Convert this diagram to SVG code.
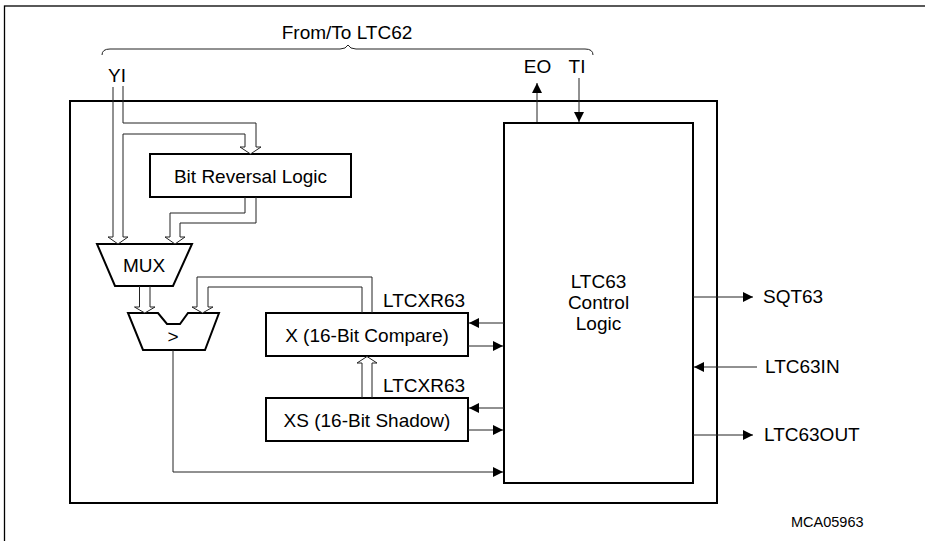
<svg xmlns="http://www.w3.org/2000/svg" width="925" height="541" viewBox="0 0 925 541">
<style>
text{font-family:"Liberation Sans",Arial,sans-serif;font-size:19px;fill:#000}
.box{fill:#fff;stroke:#000;stroke-width:2}
.ln{fill:none;stroke:#222;stroke-width:1}
.hd{fill:#fff;stroke:#222;stroke-width:1}
.c{text-anchor:middle}
</style>
<defs>
<marker id="ah" viewBox="0 0 10 10" refX="10" refY="5" markerWidth="11" markerHeight="10" markerUnits="userSpaceOnUse" orient="auto"><path d="M0,0 L10,5 L0,10z" fill="#000"/></marker>
</defs>
<rect x="4.5" y="6" width="930" height="545" fill="none" stroke="#000" stroke-width="1.3"/>
<g id="chip"><rect class="box" x="70" y="101" width="647" height="402"/></g>
<g id="brace">
<path class="ln" d="M102,55 Q102,49 110,49 H340 Q346,49 348,45 Q350,49 356,49 H585 Q593,49 593,55"/>
<text class="c" x="347" y="39">From/To LTC62</text>
</g>
<g id="bitrev"><rect class="box" x="150" y="154" width="201" height="43"/><text class="c" x="250.5" y="183">Bit Reversal Logic</text></g>
<g id="mux"><path class="box" d="M97,244 H192 L173,286 H115 Z"/><text class="c" x="144" y="272">MUX</text></g>
<g id="cmp"><path class="box" d="M128,313 H158 L167,324 H180 L188,313 H219 L205,350 H143 Z"/><text class="c" x="173" y="343">&gt;</text></g>
<g id="xreg"><rect class="box" x="266" y="313" width="202" height="43"/><text class="c" x="367" y="342">X (16-Bit Compare)</text></g>
<g id="xsreg"><rect class="box" x="266" y="398" width="202" height="43"/><text class="c" x="367" y="427">XS (16-Bit Shadow)</text></g>
<g id="ctrl"><rect class="box" x="504" y="123" width="189" height="360"/>
<text class="c" x="598.5" y="288">LTC63</text><text class="c" x="598.5" y="309">Control</text><text class="c" x="598.5" y="330">Logic</text></g>
<g id="labels">
<text class="c" x="117" y="82">YI</text>
<text class="c" x="537.5" y="73">EO</text>
<text class="c" x="577" y="73">TI</text>
<text x="383" y="307">LTCXR63</text>
<text x="383" y="392">LTCXR63</text>
<text x="763" y="303">SQT63</text>
<text x="765" y="373">LTC63IN</text>
<text x="764" y="441">LTC63OUT</text>
<text x="791" y="527" style="font-size:14.5px">MCA05963</text>
</g>
<g id="connectors">
<!-- YI bus -->
<path class="ln" d="M113,87 V237"/>
<path class="ln" d="M123,86 V123 H256 V147"/>
<path class="ln" d="M123,237 V134 H245 V147"/>
<path class="hd" d="M245,147 H240 L250.5,154 L261,147 H256"/>
<path class="hd" d="M113,237 H108 L118,244 L128,237 H123"/>
<!-- bit reversal to mux -->
<path class="ln" d="M256,197 V223 H180 V237"/>
<path class="ln" d="M245,197 V213 H170 V237"/>
<path class="hd" d="M170,237 H165 L175,244 L185,237 H180"/>
<!-- mux to comparator -->
<path class="ln" d="M139.5,286 V307 M150,286 V307"/>
<path class="hd" d="M139.5,307 H134.5 L144.8,313 L155,307 H150"/>
<!-- X feedback to comparator -->
<path class="ln" d="M372,313 V277 H197 V307"/>
<path class="ln" d="M362,313 V287 H208 V307"/>
<path class="hd" d="M197,307 H192 L202.5,313 L213,307 H208"/>
<!-- XS to X -->
<path class="ln" d="M362,398 V363 M372,398 V363"/>
<path class="hd" d="M362,363 H357 L367,356.5 L377,363 H372"/>
<!-- control <-> registers -->
<path class="ln" d="M504,323 H469" marker-end="url(#ah)"/>
<path class="ln" d="M468,346 H503" marker-end="url(#ah)"/>
<path class="ln" d="M504,408 H469" marker-end="url(#ah)"/>
<path class="ln" d="M468,430 H503" marker-end="url(#ah)"/>
<path class="ln" d="M173,350 V472 H503" marker-end="url(#ah)"/>
<!-- EO / TI -->
<path class="ln" d="M537,122 V83" marker-end="url(#ah)"/>
<path class="ln" d="M579,78 V122" marker-end="url(#ah)"/>
<!-- right side -->
<path class="ln" d="M693,297 H753" marker-end="url(#ah)"/>
<path class="ln" d="M757,367 H694" marker-end="url(#ah)"/>
<path class="ln" d="M693,435 H753" marker-end="url(#ah)"/>
</g>
</svg>
